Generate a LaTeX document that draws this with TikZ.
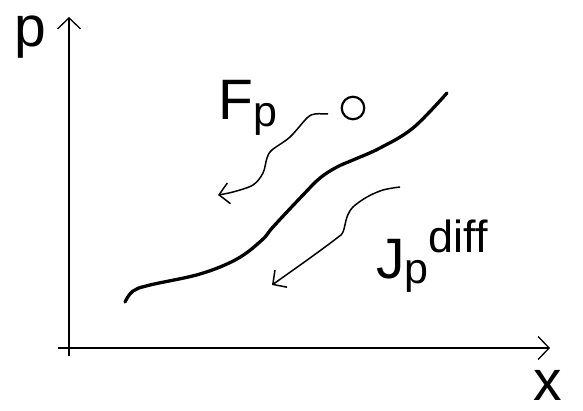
\documentclass[tikz,border=0pt]{standalone}
\usepackage{fontspec}
\setmainfont{Liberation Sans}
\usetikzlibrary{arrows.meta}
\begin{document}
\begin{tikzpicture}[x=1pt,y=-1pt,
  axis/.style={line width=1.3pt,-{Straight Barb[length=11pt,width=23pt,line width=1.3pt]}},
  flow/.style={line width=1.5pt,-{Straight Barb[length=10pt,width=21pt,line width=1.5pt]}},
  big/.style={inner sep=0pt,font=\fontsize{57}{57}\selectfont}]
\useasboundingbox (0,0) rectangle (583,411);
% axes
\coordinate (ybot) at (69,356);
\coordinate (ytop) at (69,17);
\coordinate (xleft) at (58,348);
\coordinate (xright) at (550,348);
\draw[axis] (ybot) -- (ytop);
\draw[axis] (xleft) -- (xright);
\node[big,anchor=base] (plab) at (30,47) {p};
\node[big,anchor=base] (xlab) at (548,400) {x};
% main curve
\draw[line width=3.3pt,line cap=round] plot[smooth,tension=0.6] coordinates {
 (125,302) (133,291) (150,285) (200,274) (237,259) (262,240) (273,227)
 (303,195) (320,178) (337,167) (353,160) (380,148) (413,128) (447,93)};
% hole
\node[draw,circle,line width=2.2pt,minimum size=22.5pt,inner sep=0pt] (hole) at (353,108) {};
% F_p arrow
\draw[flow] plot[smooth,tension=0.55] coordinates {
 (328,114) (315,114) (307,118) (290,137) (272,150) (267,158) (263,173)
 (253,185) (233,192) (218,195)};
\node[big,anchor=base west] (Fp) at (218,120) {F\raisebox{-7pt}{\fontsize{43}{43}\selectfont p}};
% J arrow
\draw[flow] plot[smooth,tension=0.55] coordinates {
 (400,187) (383,190) (367,197) (353,207) (347,217) (343,232) (337,238)
 (310,258) (272,285)};
\node[big,anchor=base west] (Jp) at (376,279) {J\raisebox{-5pt}{\fontsize{43}{43}\selectfont p}\raisebox{26pt}{\fontsize{45}{45}\selectfont diff}};
\end{tikzpicture}
\end{document}
